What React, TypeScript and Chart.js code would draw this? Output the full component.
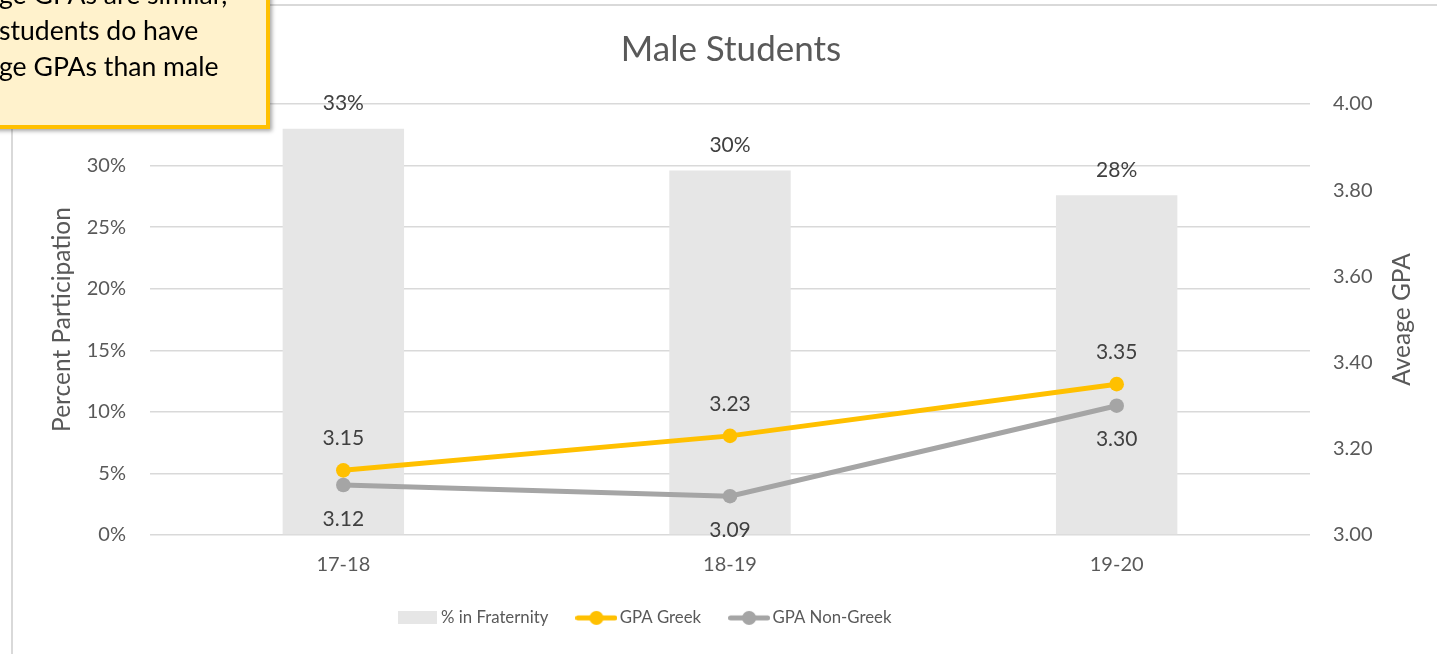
import React, { useEffect, useRef } from "react";
import { Chart, registerables } from "chart.js";

Chart.register(...registerables);

// ---------- data ----------
const categories = ["17-18", "18-19", "19-20"];
const pctFraternity = [0.33, 0.296, 0.276];
const gpaGreek = [3.15, 3.23, 3.35];
const gpaNonGreek = [3.116, 3.09, 3.3];
const seriesNames = ["% in Fraternity", "GPA Greek", "GPA Non-Greek"];
const chartTitle = "Male Students";
const leftAxisTitle = "Percent Participation";
const rightAxisTitle = "Aveage GPA";
const calloutLines = ["ge GPAs are similar,", "students do have", "ge GPAs than male"];

// ---------- style ----------
const FONT = "Lato, 'Open Sans', sans-serif";
const BAR = "#E6E6E6";
const GOLD = "#FFC000";
const GRAY = "#A5A5A5";
const TEXT = "#595959";
const LABEL = "#404040";
const GRID = "#D9D9D9";
const W = 1424;
const H = 648;

function makeBarIcon(): HTMLCanvasElement {
  const c = document.createElement("canvas");
  c.width = 39;
  c.height = 13;
  const g = c.getContext("2d")!;
  g.fillStyle = BAR;
  g.fillRect(0, 0, 39, 13);
  return c;
}

function makeLineIcon(color: string): HTMLCanvasElement {
  const c = document.createElement("canvas");
  c.width = 42;
  c.height = 16;
  const g = c.getContext("2d")!;
  g.strokeStyle = color;
  g.lineWidth = 5;
  g.lineCap = "round";
  g.beginPath();
  g.moveTo(2.5, 8);
  g.lineTo(39.5, 8);
  g.stroke();
  g.fillStyle = color;
  g.beginPath();
  g.arc(21, 8, 7, 0, Math.PI * 2);
  g.fill();
  return c;
}

const dataLabelPlugin = {
  id: "dataLabels",
  afterDatasetsDraw(chart: any) {
    const ctx = chart.ctx;
    ctx.save();
    ctx.font = `21px ${FONT}`;
    ctx.fillStyle = LABEL;
    ctx.textAlign = "center";
    ctx.textBaseline = "middle";
    const m0 = chart.getDatasetMeta(0);
    m0.data.forEach((el: any, i: number) => {
      ctx.fillText(Math.round(pctFraternity[i] * 100) + "%", el.x, el.y - 25);
    });
    const m1 = chart.getDatasetMeta(1);
    m1.data.forEach((el: any, i: number) => {
      ctx.fillText(gpaGreek[i].toFixed(2), el.x, el.y - 32);
    });
    const m2 = chart.getDatasetMeta(2);
    m2.data.forEach((el: any, i: number) => {
      ctx.fillText(gpaNonGreek[i].toFixed(2), el.x, el.y + 34);
    });
    ctx.restore();
  },
};

const axisTitlePlugin = {
  id: "axisTitles",
  afterDraw(chart: any) {
    const ctx = chart.ctx;
    const a = chart.chartArea;
    const cy = (a.top + a.bottom) / 2;
    const draw = (text: string, x: number) => {
      ctx.save();
      ctx.font = `24.5px ${FONT}`;
      ctx.fillStyle = TEXT;
      ctx.textAlign = "center";
      ctx.textBaseline = "middle";
      ctx.translate(x, cy);
      ctx.rotate(-Math.PI / 2);
      ctx.fillText(text, 0, 0);
      ctx.restore();
    };
    draw(leftAxisTitle, 49);
    draw(rightAxisTitle, 1389);
  },
};

const shiftPlugin = {
  id: "shiftBoxes",
  afterLayout(chart: any) {
    if (chart.legend) {
      chart.legend.left -= 78;
      chart.legend.right -= 78;
    }
    if (chart.titleBlock) {
      chart.titleBlock.left += 6;
      chart.titleBlock.right += 6;
    }
  },
};

export default function App() {
  const ref = useRef<HTMLCanvasElement | null>(null);

  useEffect(() => {
    if (!ref.current) return;
    const icons = [makeBarIcon(), makeLineIcon(GOLD), makeLineIcon(GRAY)];
    const tickFont = { family: FONT, size: 20 };
    const chart = new Chart(ref.current, {
      type: "bar",
      data: {
        labels: categories,
        datasets: [
          {
            type: "bar",
            label: seriesNames[0],
            data: pctFraternity,
            backgroundColor: BAR,
            yAxisID: "y",
            order: 3,
            categoryPercentage: 1,
            barPercentage: 0.314,
          } as any,
          {
            type: "line",
            label: seriesNames[1],
            data: gpaGreek,
            borderColor: GOLD,
            backgroundColor: GOLD,
            borderWidth: 5,
            pointRadius: 7.3,
            pointBorderWidth: 0,
            pointBackgroundColor: GOLD,
            yAxisID: "y1",
            order: 1,
            tension: 0,
          } as any,
          {
            type: "line",
            label: seriesNames[2],
            data: gpaNonGreek,
            borderColor: GRAY,
            backgroundColor: GRAY,
            borderWidth: 5,
            pointRadius: 7.3,
            pointBorderWidth: 0,
            pointBackgroundColor: GRAY,
            yAxisID: "y1",
            order: 2,
            tension: 0,
          } as any,
        ],
      },
      options: {
        responsive: false,
        animation: false,
        devicePixelRatio: 1,
        layout: { padding: { left: 0, right: 0, top: 0, bottom: 17.7 } },
        plugins: {
          title: {
            display: true,
            text: chartTitle,
            color: TEXT,
            font: { family: FONT, size: 35, weight: "normal" },
            padding: { top: 23, bottom: 33 },
          },
          legend: {
            position: "bottom",
            labels: {
              usePointStyle: true,
              pointStyleWidth: 30,
              padding: 33,
              color: TEXT,
              font: { family: FONT, size: 16.8 },
              generateLabels: () =>
                seriesNames.map((name, i) => ({
                  text: name,
                  pointStyle: icons[i],
                  fillStyle: "transparent",
                  strokeStyle: "transparent",
                  lineWidth: 0,
                  hidden: false,
                  datasetIndex: i,
                  fontColor: TEXT,
                })) as any,
            },
          },
          tooltip: { enabled: false },
        },
        scales: {
          x: {
            grid: { display: false, drawTicks: false },
            border: { display: false },
            ticks: { color: TEXT, font: tickFont, padding: 17.7 },
            afterFit: (s: any) => {
              s.height = 41.5;
            },
          },
          y: {
            position: "left",
            min: 0,
            max: 0.35,
            ticks: {
              stepSize: 0.05,
              color: TEXT,
              font: tickFont,
              padding: 24,
              callback: (v: any) => Math.round(Number(v) * 100) + "%",
            },
            grid: { color: GRID, lineWidth: 1.5, drawTicks: false },
            border: { display: false },
            afterFit: (s: any) => {
              s.width = 137;
            },
          },
          y1: {
            position: "right",
            min: 3,
            max: 4,
            ticks: {
              stepSize: 0.2,
              color: TEXT,
              font: tickFont,
              padding: 23,
              callback: (v: any) => Number(v).toFixed(2),
            },
            grid: { display: false, drawTicks: false },
            border: { display: false },
            afterFit: (s: any) => {
              s.width = 127;
            },
          },
        },
      } as any,
      plugins: [dataLabelPlugin, axisTitlePlugin, shiftPlugin],
    });
    return () => chart.destroy();
  }, []);

  return (
    <div
      style={{
        position: "fixed",
        left: 0,
        top: 0,
        width: 1437,
        height: 654,
        overflow: "hidden",
        background: "#ffffff",
      }}
    >
      <div
        style={{
          position: "absolute",
          left: 11,
          top: 4,
          width: 1440,
          height: 660,
          borderLeft: `2px solid ${GRID}`,
          borderTop: `2px solid ${GRID}`,
          background: "#ffffff",
        }}
      >
        <canvas ref={ref} width={W} height={H} style={{ display: "block", width: W, height: H }} />
      </div>
      <div
        style={{
          position: "absolute",
          left: -300,
          top: -100,
          width: 570,
          height: 229,
          boxSizing: "border-box",
          border: `4.5px solid ${GOLD}`,
          background: "#FFF2CC",
          boxShadow: "2px 2px 4px rgba(0,0,0,0.35)",
        }}
      />
      <div
        style={{
          position: "absolute",
          left: -1,
          top: -24.5,
          fontFamily: FONT,
          fontSize: 26.6,
          lineHeight: "36.3px",
          color: "#000000",
          whiteSpace: "nowrap",
        }}
      >
        {calloutLines.map((l, i) => (
          <div key={i}>{l}</div>
        ))}
      </div>
    </div>
  );
}
